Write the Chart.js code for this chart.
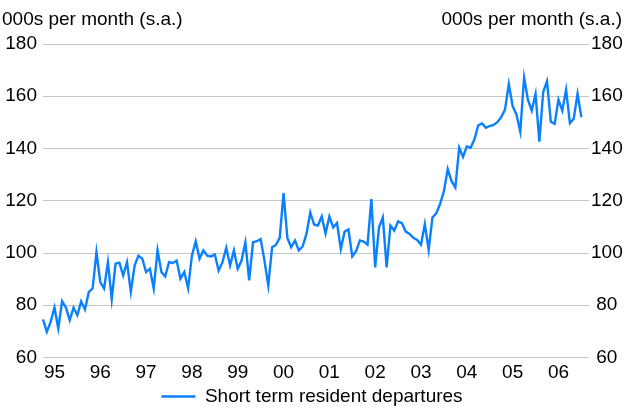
<!DOCTYPE html>
<html>
<head>
<meta charset="utf-8">
<script src="https://cdn.jsdelivr.net/npm/chart.js@4/dist/chart.umd.min.js"></script>
<style>
  html, body { margin: 0; padding: 0; background: #fff; }
</style>
</head>
<body>
<canvas id="chart" width="624" height="416"></canvas>
<script>
// Short term resident departures, monthly, Oct 1994 - Jul 2006
const unitLabel = '000s per month (s.a.)';
const seriesName = 'Short term resident departures';
const yearLabels = ['95', '96', '97', '98', '99', '00', '01', '02', '03', '04', '05', '06'];
const yTicks = [60, 80, 100, 120, 140, 160, 180];

const departures = [
  74.6, 69.8, 73.6, 79.1, 71.1, 81.5, 79.1, 74.3, 79.1, 76.2,
  81.5, 78.4, 85.1, 86.4, 100.3, 88.9, 86.4, 96.5, 82.3, 95.9,
  96.3, 91.4, 96.5, 85.1, 95.2, 99.0, 97.8, 92.7, 94.0, 86.4,
  101.0, 92.7, 91.0, 96.5, 96.2, 97.1, 90.2, 92.7, 86.5, 99.0,
  104.5, 97.8, 101.0, 99.0, 98.7, 99.4, 93.3, 96.5, 102.0, 95.2,
  101.0, 94.0, 97.1, 104.1, 89.5, 104.1, 104.5, 105.3, 97.1, 87.6,
  102.2, 103.1, 105.8, 122.9, 105.8, 102.2, 104.8, 101.0, 102.5, 107.3,
  115.5, 110.9, 110.5, 114.0, 107.5, 114.0, 109.8, 111.5, 101.5, 108.2,
  109.0, 98.7, 100.7, 104.8, 104.4, 103.2, 120.6, 94.5, 109.8, 113.6,
  94.5, 110.5, 108.6, 112.1, 111.4, 108.2, 107.3, 105.8, 105.0, 103.2,
  111.1, 101.2, 113.6, 115.2, 118.8, 123.6, 132.1, 127.5, 125.1, 140.3,
  136.8, 140.8, 140.3, 143.5, 148.9, 149.6, 147.9, 148.6, 149.0, 150.1,
  152.0, 154.9, 164.7, 156.2, 153.0, 146.4, 167.2, 158.7, 154.5, 160.9,
  142.6, 161.6, 165.7, 150.2, 149.4, 158.7, 154.5, 162.5, 149.7, 151.4,
  160.9, 152.0
];

// month categories, axis runs two months past the last observation
const months = [];
for (let i = 0; i < 144; i++) {
  const m = 9 + i; // Oct 1994 = month 9 (0-based) of 1994
  const y = 1994 + Math.floor(m / 12);
  months.push(y + '-' + String(m % 12 + 1).padStart(2, '0'));
}

const FONT = '"Liberation Sans", Arial, sans-serif';
const font = { family: FONT, size: 19 };
const blue = '#0a80ff';

const unitTitles = {
  id: 'unitTitles',
  afterDraw(chart) {
    const ctx = chart.ctx;
    ctx.save();
    ctx.font = '19px ' + FONT;
    ctx.fillStyle = '#000';
    ctx.textBaseline = 'middle';
    ctx.textAlign = 'left';
    ctx.fillText(unitLabel, 2, 20);
    ctx.textAlign = 'right';
    ctx.fillText(unitLabel, 622, 20);
    ctx.restore();
  }
};

let ctx = document.getElementById('chart').getContext('2d');
let myChart = new Chart(ctx, {
  type: 'line',
  data: {
    labels: months,
    datasets: [{
      label: seriesName,
      data: departures,
      borderColor: blue,
      backgroundColor: blue,
      borderWidth: 2.4,
      pointRadius: 0,
      pointStyle: 'line',
      tension: 0,
      fill: false,
      yAxisID: 'y'
    }]
  },
  options: {
    responsive: false,
    animation: false,
    devicePixelRatio: 1,
    layout: { padding: { top: 44, left: 0, right: 0, bottom: 0 } },
    plugins: {
      tooltip: { enabled: false },
      legend: {
        position: 'bottom',
        labels: {
          usePointStyle: true,
          pointStyle: 'line',
          pointStyleWidth: 34,
          padding: 4,
          color: '#000',
          font: font
        }
      }
    },
    scales: {
      x: {
        type: 'category',
        grid: { display: false },
        border: { display: false },
        ticks: {
          autoSkip: false,
          maxRotation: 0,
          padding: -4,
          color: '#000',
          font: font,
          callback: (v, i) => {
            const m = months[i];
            if (!m.endsWith('-01')) return '';
            return yearLabels[parseInt(m.slice(0, 4)) - 1995] || '';
          }
        },
        afterFit: s => { s.height = 25.5; }
      },
      y: {
        position: 'left',
        min: 60, max: 180,
        afterBuildTicks: s => { s.ticks = yTicks.map(v => ({ value: v })); },
        ticks: { padding: 6, color: '#000', font: font },
        grid: { color: '#c6c6c6', lineWidth: 1, drawTicks: false },
        border: { display: false },
        afterFit: s => { s.width = 43; }
      },
      y2: {
        position: 'right',
        min: 60, max: 180,
        afterBuildTicks: s => { s.ticks = yTicks.map(v => ({ value: v })); },
        ticks: { padding: 2, crossAlign: 'center', color: '#000', font: font },
        grid: { display: false, drawTicks: false },
        border: { display: false },
        afterFit: s => { s.width = 35; }
      }
    }
  },
  plugins: [unitTitles]
});
</script>
</body>
</html>
